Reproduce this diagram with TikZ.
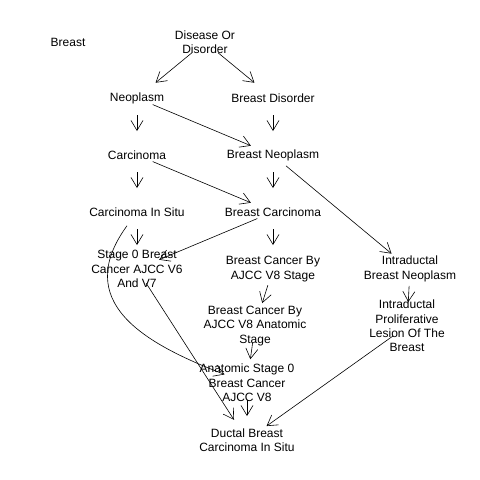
\documentclass[tikz,border=0pt]{standalone}
\usepackage{fontspec}
\setmainfont{Liberation Sans}
\usetikzlibrary{arrows.meta}
\begin{document}
\begin{tikzpicture}[x=1pt,y=-1pt,font=\fontsize{12}{14.4}\selectfont,
    every node/.style={align=center,inner sep=0pt},
    >={Straight Barb[length=10pt,width=12pt]},
    link/.style={->,line width=0.6pt,shorten <=17pt,shorten >=24pt}]
    \useasboundingbox (0,0) rectangle (480,480);
    \node (A) at (68,42) {Breast};
    \node (B) at (205,42) {Disease Or\\Disorder};
    \node (C) at (137,98) {Neoplasm};
    \node (D) at (273,98) {Breast Disorder};
    \node (E) at (137,155) {Carcinoma};
    \node (F) at (273,155) {Breast Neoplasm};
    \node (G) at (137,212) {Carcinoma In Situ};
    \node (H) at (273,212) {Breast Carcinoma};
    \node (I) at (137,269) {Stage 0 Breast\\Cancer AJCC V6\\And V7};
    \node (J) at (273,269) {Breast Cancer By\\AJCC V8 Stage};
    \node (K) at (410,269) {Intraductal\\Breast Neoplasm};
    \node (L) at (255,326) {Breast Cancer By\\AJCC V8 Anatomic\\Stage};
    \node (M) at (407,326) {Intraductal\\Proliferative\\Lesion Of The\\Breast};
    \node (N) at (247,383) {Anatomic Stage 0\\Breast Cancer\\AJCC V8};
    \node (O) at (247,440) {Ductal Breast\\Carcinoma In Situ};

    \draw (B.center) edge[link] (C.center);
    \draw (B.center) edge[link] (D.center);
    \draw (C.center) edge[link] (E.center);
    \draw (C.center) edge[link] (F.center);
    \draw (D.center) edge[link] (F.center);
    \draw (E.center) edge[link] (G.center);
    \draw (E.center) edge[link] (H.center);
    \draw (F.center) edge[link] (H.center);
    \draw (F.center) edge[link] (K.center);
    \draw (G.center) edge[link] (I.center);
    \draw (G.center) edge[link, out=234, in=159, looseness=1.4] (N.center);
    \draw (H.center) edge[link] (I.center);
    \draw (H.center) edge[link] (J.center);
    \draw (I.center) edge[link] (O.center);
    \draw (J.center) edge[link] (L.center);
    \draw (K.center) edge[link] (M.center);
    \draw (L.center) edge[link] (N.center);
    \draw (M.center) edge[link] (O.center);
    \draw (N.center) edge[link] (O.center);
\end{tikzpicture}
\end{document}
